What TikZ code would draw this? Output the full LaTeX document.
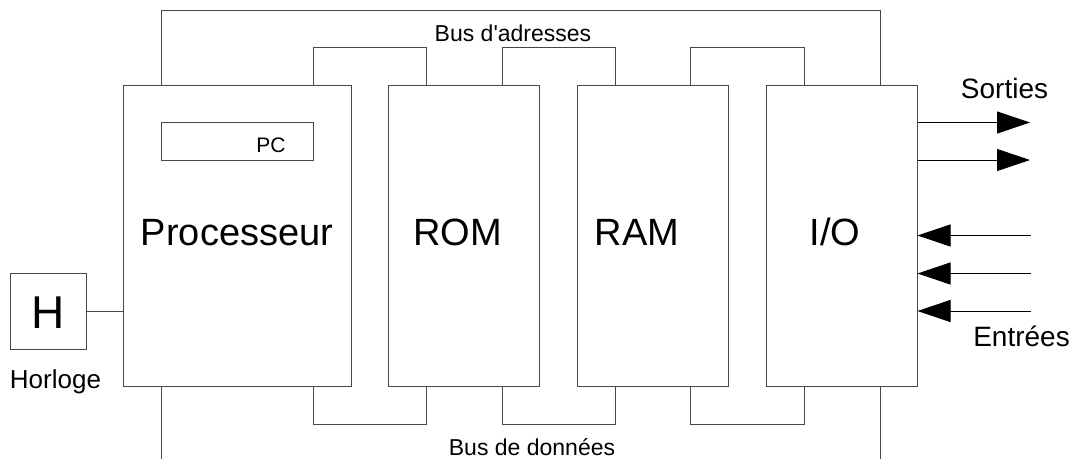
\documentclass[tikz,border=0pt]{standalone}
\usepackage{fontspec}
\setmainfont{Liberation Sans}
\usetikzlibrary{arrows.meta}
\tikzset{
  wire/.style={line width=1pt, draw=black!72},
  unit/.style={draw=black!72, line width=1pt, rectangle, inner sep=0pt,
    minimum width=151pt, minimum height=301pt},
  big/.style={font=\fontsize{38}{40}\selectfont, anchor=base, inner sep=0pt},
  small/.style={font=\fontsize{23}{25}\selectfont, anchor=base, inner sep=0pt},
  mid/.style={font=\fontsize{28}{30}\selectfont, anchor=base, inner sep=0pt},
  sig/.style={line width=1pt, draw=black, -{Triangle[length=33pt,width=22pt]}},
}
\begin{document}
\begin{tikzpicture}[x=1pt,y=-1pt]
\useasboundingbox (0,0) rectangle (1073,459);

% functional units
\node[unit, minimum width=228pt] (proc) at (237,235.5) {};
\node[unit] (rom) at (463.5,235.5) {};
\node[unit] (ram) at (652.5,235.5) {};
\node[unit] (io)  at (841.5,235.5) {};
\node[draw=black!72, line width=1pt, minimum width=152pt, minimum height=38pt, inner sep=0pt] (pc) at (237,141) {};
\node[draw=black!72, line width=1pt, minimum width=76pt, minimum height=76pt, inner sep=0pt] (clk) at (48,311) {};

% labels
\node[big] (tproc) at (237,245) {Processeur};
\node[big] (trom) at (457.5,245) {ROM};
\node[big] (tram) at (637,245) {RAM};
\node[big] (tio) at (835,245) {I/O};
\node[font=\fontsize{21}{23}\selectfont, anchor=base, inner sep=0pt] (tpc) at (271,152) {PC};
\node[font=\fontsize{46}{48}\selectfont, anchor=base, inner sep=0pt] (th) at (48,328.5) {H};
\node[font=\fontsize{26}{28}\selectfont, anchor=base, inner sep=0pt] (thor) at (55.5,388) {Horloge};
\node[small] (tadr) at (513,41) {Bus d\textquotesingle adresses};
\node[small] (tdon) at (532,455) {Bus de données};
\node[mid] (tout) at (1004.5,98) {Sorties};
\node[mid] (tin) at (1021.5,346.5) {Entrées};

% address bus
\coordinate (atl) at (161.5,10);
\coordinate (atr) at (880,10);
\draw[wire] (proc.north -| atl) -- (atl) -- (atr) -- (io.north -| atr);
\coordinate (a1) at (313,47);   \coordinate (a2) at (426,47);
\coordinate (a3) at (502,47);   \coordinate (a4) at (615,47);
\coordinate (a5) at (690,47);   \coordinate (a6) at (804,47);
\draw[wire] (proc.north -| a1) -- (a1) -- (a2) -- (rom.north -| a2);
\draw[wire] (rom.north -| a3) -- (a3) -- (a4) -- (ram.north -| a4);
\draw[wire] (ram.north -| a5) -- (a5) -- (a6) -- (io.north -| a6);

% data bus
\coordinate (dbl) at (161.5,459);
\coordinate (dbr) at (880,459);
\draw[wire] (proc.south -| dbl) -- (dbl);
\draw[wire] (io.south -| dbr) -- (dbr);
\coordinate (d1) at (313,424);  \coordinate (d2) at (426,424);
\coordinate (d3) at (502,424);  \coordinate (d4) at (615,424);
\coordinate (d5) at (690,424);  \coordinate (d6) at (804,424);
\draw[wire] (proc.south -| d1) -- (d1) -- (d2) -- (rom.south -| d2);
\draw[wire] (rom.south -| d3) -- (d3) -- (d4) -- (ram.south -| d4);
\draw[wire] (ram.south -| d5) -- (d5) -- (d6) -- (io.south -| d6);

% clock
\draw[wire] (clk.east) -- (clk.east -| proc.west);

% outputs
\coordinate (o1) at (1030,122.5);
\coordinate (o2) at (1030,160);
\draw[sig] (io.east |- o1) -- (o1);
\draw[sig] (io.east |- o2) -- (o2);

% inputs
\coordinate (i1) at (1031,235.5);
\coordinate (i2) at (1031,273.5);
\coordinate (i3) at (1031,311);
\draw[sig] (i1) -- (io.east |- i1);
\draw[sig] (i2) -- (io.east |- i2);
\draw[sig] (i3) -- (io.east |- i3);
\end{tikzpicture}
\end{document}
